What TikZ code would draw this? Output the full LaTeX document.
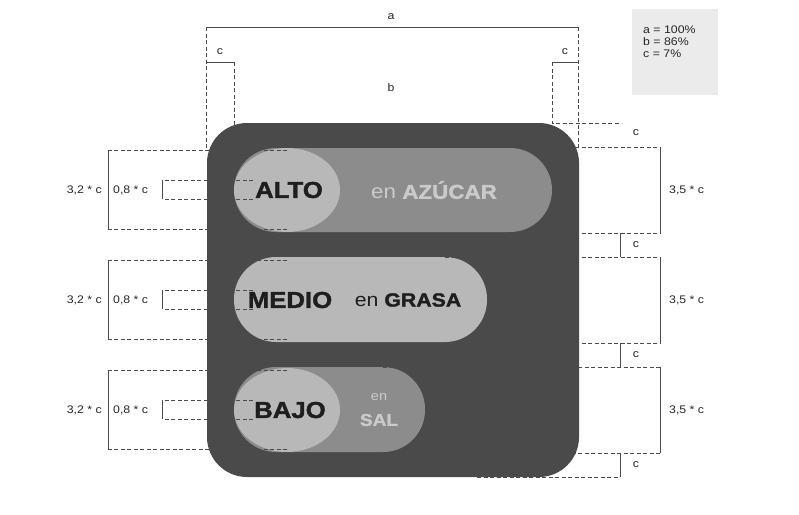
\documentclass[tikz,border=0pt]{standalone}
\usepackage{fontspec}
\setmainfont{Liberation Sans}[FakeStretch=1.12, BoldFeatures={FakeBold=1.6}]
\usetikzlibrary{positioning, calc}

\definecolor{boxdark}{HTML}{4A4A4A}
\definecolor{pillmid}{HTML}{8C8C8C}
\definecolor{pilllight}{HTML}{B8B8B8}
\definecolor{textlight}{HTML}{CACACA}
\definecolor{textdark}{HTML}{1E1E1E}
\definecolor{dimgray}{HTML}{4A4A4A}
\definecolor{legendgray}{HTML}{EBEBEB}

\begin{document}
\begin{tikzpicture}[x=1pt,y=-1pt,
    dim/.style={draw=dimgray, line width=0.9pt},
    dimdash/.style={draw=dimgray, line width=0.9pt, dash pattern=on 4pt off 2.5pt},
    dimtext/.style={font=\fontsize{11}{12}\selectfont, text=black!85, inner sep=0pt},
    legendtext/.style={font=\fontsize{11}{12}\selectfont, text=black!85, inner sep=1pt},
    letter/.style={font=\fontsize{11}{12}\selectfont, text=black!85, inner sep=1pt},
    bigword/.style={font=\fontsize{23}{24}\selectfont\bfseries, text=textdark, inner sep=0pt},
    ]
    \useasboundingbox (0,0) rectangle (799,514);

    % legend
    \fill[legendgray] (632,9) rectangle (718,95);
    \node[legendtext, align=left, anchor=north west] (legend) at (642,25) {a = 100\%\\ b = 86\%\\ c = 7\%};

    % dark panel
    \fill[boxdark, rounded corners=40pt] (207,123) rectangle (579,477);

    % row 1
    \fill[pillmid, rounded corners=42pt] (234,148) rectangle (552,232);
    \fill[pilllight] (287,190) ellipse [x radius=53pt, y radius=42pt];
    \node[bigword] (alto) at (289,190) {ALTO};
    \node[font=\fontsize{20}{22}\selectfont, text=textlight] (azucar) at (434,190) {en \textbf{AZÚCAR}};

    % row 2
    \fill[pilllight, rounded corners=42pt] (234,257) rectangle (487,342);
    \node[bigword] (medio) at (290,300) {MEDIO};
    \node[font=\fontsize{19}{21}\selectfont, text=textdark] (grasa) at (408,300) {en \textbf{GRASA}};

    % row 3
    \fill[pillmid, rounded corners=42pt] (234,367) rectangle (425,452);
    \fill[pilllight] (287,410) ellipse [x radius=53pt, y radius=42pt];
    \node[bigword] (bajo) at (290,410) {BAJO};
    \node[font=\fontsize{13}{14}\selectfont, text=textlight] (en) at (379,397) {en};
    \node[font=\fontsize{17}{18}\selectfont\bfseries, text=textlight] (sal) at (379,420) {SAL};

    % top dimensions
    \coordinate (aL) at (206,27);
    \coordinate (aR) at (578,27);
    \coordinate (cL) at (234,62);
    \coordinate (cR) at (552,62);
    \draw[dim] (aL) -- (aR);
    \node[letter] (a) at (391,17) {a};
    \draw[dimdash] (aL) -- (206,150);
    \draw[dimdash] (aR) -- (578,147);
    \draw[dim] (206,62) -- (cL);
    \draw[dimdash] (cL) -- (234,148);
    \draw[dim] (cR) -- (578,62);
    \draw[dimdash] (cR) -- (552,123) -- (620,123);
    \node[letter] (cleft) at (220,52) {c};
    \node[letter] (cright) at (565,52) {c};
    \node[letter] (b) at (391,88) {b};
    \node[letter] (ctop) at (636,133) {c};

    % row dimensions
    \foreach \yc/\xs [count=\i] in {190/510, 300/445, 410/383} {
        % left side
        \draw[dimdash] (287,{\yc-40}) -- (108,{\yc-40});
        \draw[dimdash] (287,{\yc+39}) -- (108,{\yc+39});
        \draw[dim] (108,{\yc-40}) -- (108,{\yc+39});
        \draw[dimdash] (253,{\yc-10}) -- (162,{\yc-10});
        \draw[dimdash] (253,{\yc+9}) -- (162,{\yc+9});
        \draw[dim] (162,{\yc-10}) -- (162,{\yc+9});
        \node[dimtext, anchor=east] (outer\i) at (102,\yc) {3,2 * c};
        \node[dimtext, anchor=west] (inner\i) at (113,\yc) {0,8 * c};
        % right side
        \draw[dimdash] (\xs,{\yc-43}) -- (660,{\yc-43});
        \draw[dimdash] (\xs,{\yc+43}) -- (660,{\yc+43});
        \draw[dim] (660,{\yc-43}) -- (660,{\yc+43});
        \draw[dim] (620,{\yc+43}) -- (620,{\yc+67});
        \node[dimtext, anchor=west] (side\i) at (669,\yc) {3,5 * c};
        \node[letter] (gap\i) at (636,{\yc+55}) {c};
    }
    \draw[dimdash] (477,477) -- (620,477);
\end{tikzpicture}
\end{document}
